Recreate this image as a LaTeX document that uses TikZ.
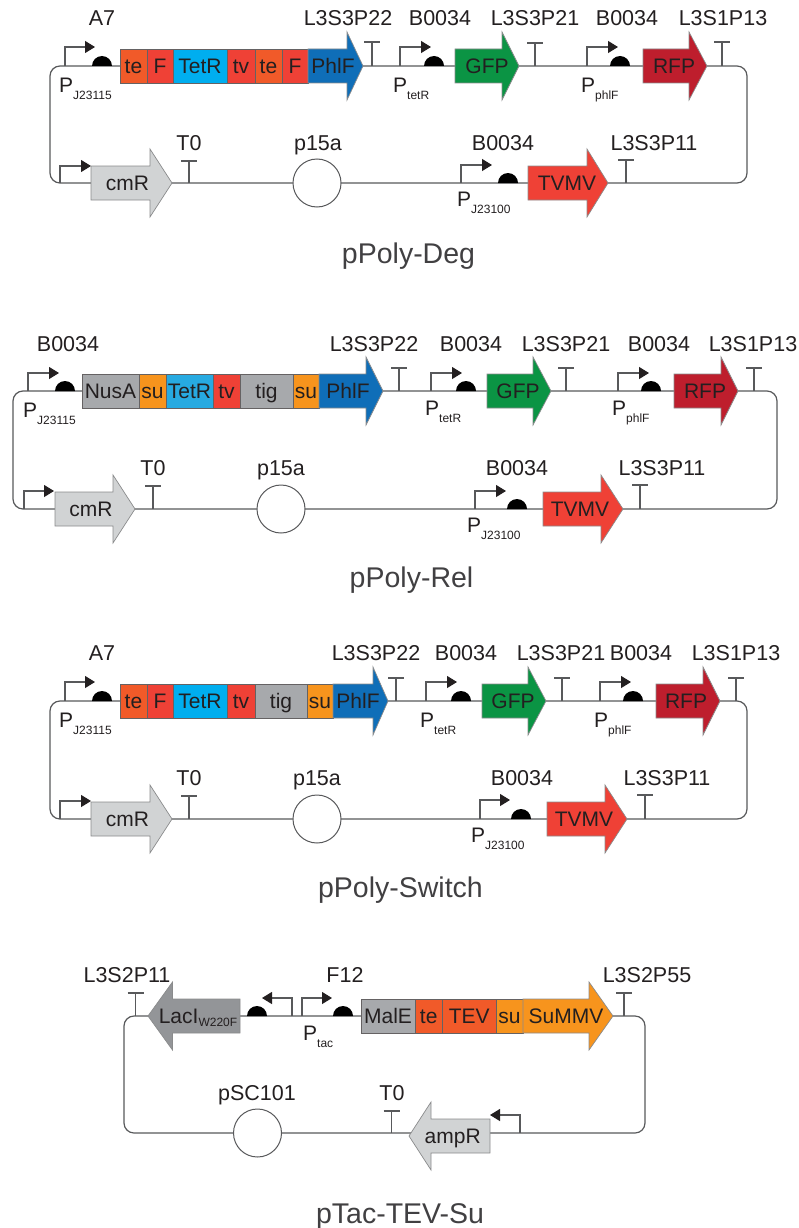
\documentclass[tikz,border=0pt]{standalone}
\usepackage{fontspec}
\setmainfont{Liberation Sans}
\usetikzlibrary{arrows.meta}
\definecolor{linecol}{RGB}{88,89,91}
\definecolor{textcol}{RGB}{35,31,32}
\definecolor{titlecol}{RGB}{65,64,66}
\definecolor{tecol}{RGB}{241,90,41}
\definecolor{redcol}{RGB}{239,65,54}
\definecolor{cyancol}{RGB}{0,174,239}
\definecolor{bluecol}{RGB}{39,170,225}
\definecolor{phlfcol}{RGB}{15,110,184}
\definecolor{greencol}{RGB}{11,148,68}
\definecolor{rfpcol}{RGB}{190,30,45}
\definecolor{lgray}{RGB}{209,211,212}
\definecolor{mgray}{RGB}{167,169,172}
\definecolor{dgray}{RGB}{147,149,152}
\definecolor{sucol}{RGB}{247,148,29}
\newcommand{\pname}[1]{P\raisebox{-7pt}{\fontsize{12}{12}\selectfont #1}}

\begin{document}
\begin{tikzpicture}[
  x=1pt, y=-1pt,
  backbone/.style={draw=linecol, line width=1.2pt, rounded corners=10pt},
  prom/.style={draw=linecol, line width=1.2pt, -{Triangle[length=10pt,width=12pt,color=textcol]}},
  term/.style={draw=linecol, line width=1.2pt},
  gene/.style={draw=linecol!70, line width=0.7pt, line join=miter},
  part/.style={
    draw=textcol!70, line width=0.7pt, minimum height=34pt, inner sep=0pt,
    text=textcol, font=\fontsize{21}{21}\selectfont, text height=15pt, text depth=0pt
  },
  genelab/.style={inner sep=0pt, text=textcol, font=\fontsize{21}{21}\selectfont, text height=15pt, text depth=0pt},
  lab/.style={inner sep=0pt, text=textcol, font=\fontsize{21.5}{21.5}\selectfont, text height=15pt, text depth=0pt},
  promlab/.style={anchor=base west, inner sep=0pt, text=textcol, font=\fontsize{21}{21}\selectfont},
  ori/.style={circle, draw=linecol, fill=white, line width=1pt, minimum size=48pt, inner sep=0pt},
  plasmid/.style={inner sep=0pt, text=titlecol, font=\fontsize{28.5}{28.5}\selectfont, text height=20pt, text depth=0pt},
]
\useasboundingbox (0,0) rectangle (799,1228);

% ---- Backbones ----
\foreach \n/\xa/\ya/\xb/\yb in {deg/50/66/747/183, rel/13/391/777/509,
                                sw/50/701/747/819, tac/124/1016/645/1133} {
  \coordinate (\n tl) at (\xa,\ya);
  \coordinate (\n br) at (\xb,\yb);
  \draw[backbone] (\n tl) rectangle (\n br);
}

% ---- Promoters (start x / backbone y / top y / tip x) ----
\foreach \xs/\y/\yt/\xt in {65/66/47/95, 400/66/47/431, 587/66/47/618, 461/183/165/492, 60/183/166/91,
                            28/391/373/59, 431/391/373/462, 618/391/373/649, 475/509/491/506, 24/509/491/54,
                            65/701/682/95, 426/701/682/457, 600/701/682/631, 480/819/800/510, 60/819/801/91,
                            292/1016/998/262, 302/1016/998/332, 520/1133/1115/490}
  \draw[prom] (\xs,\y) -- (\xs,\yt) -- (\xt,\yt);

% ---- RBS ----
\foreach \x/\y in {102/66, 434/66, 620/66, 508/183,
                   65/391, 466/391, 651/391, 517/509,
                   102/701, 461/701, 633/701, 521/819,
                   257/1016, 343/1016}
  \fill[black] (\x-10,\y) arc[start angle=180, end angle=0, radius=10pt] -- cycle;

% ---- Terminators (x / backbone y / top y) ----
\foreach \x/\y/\yt in {372/66/42, 535/66/43, 722/66/42, 626/183/160, 189/183/161,
                       399/391/368, 566/391/368, 754/391/368, 640/509/485, 153/509/486,
                       396/701/678, 562/701/678, 736/701/678, 645/819/795, 189/819/796,
                       135.5/1016/993, 624/1016/993, 391.5/1133/1111}
  \draw[term] (\x,\y) -- (\x,\yt) (\x-8,\yt) -- (\x+8,\yt);

% ---- Fusion parts ----
\foreach \n/\xa/\xb/\y/\f/\lab in {dte1/120/147/66/tecol/te, df1/147/173/66/redcol/F, dtet/173/227/66/cyancol/TetR,
                                   dtv/227/255/66/redcol/tv, dte2/255/282/66/tecol/te, df2/282/308/66/redcol/F,
                                   rnus/82/139/391/mgray/NusA, rsu1/139/166/391/sucol/su, rtet/166/213/391/bluecol/TetR,
                                   rtv/213/240/391/redcol/tv, rtig/240/293/391/mgray/tig, rsu2/293/319/391/sucol/su,
                                   ste/120/147/701/tecol/te, sf/147/173/701/redcol/F, stet/173/227/701/cyancol/TetR,
                                   stv/227/255/701/redcol/tv, stig/255/307/701/mgray/tig, ssu/307/333/701/sucol/su,
                                   tmal/361/415/1016/mgray/MalE, tte/415/442.5/1016/tecol/te,
                                   ttev/442.5/496/1016/tecol/TEV, tsu/496/523/1016/sucol/su}
  \node[part, fill=\f, minimum width={(\xb-\xa)*1pt}] (\n) at ({(\xa+\xb)/2},\y) {\lab};

% ---- Gene arrows (tail x / head base x / tip x / y / colour / text / text x) ----
\foreach \n/\xa/\xb/\xc/\y/\f/\lab/\xl in {dphl/308/347/363/66/phlfcol/PhlF/333, dgfp/455/502/519/66/greencol/GFP/487,
                                           drfp/643/689/707/66/rfpcol/RFP/674, dtvmv/528/587/608/183/redcol/TVMV/567,
                                           dcm/91/150/172/183/lgray/cmR/127.5,
                                           rphl/319/366/383/391/phlfcol/PhlF/348, rgfp/487/533/551/391/greencol/GFP/518,
                                           rrfp/674/721/738/391/rfpcol/RFP/705, rtvmv/543/601/623/509/redcol/TVMV/580,
                                           rcm/55/113/135/509/lgray/cmR/91,
                                           sphl/333/373/388/701/phlfcol/PhlF/358, sgfp/482/528/546/701/greencol/GFP/513,
                                           srfp/656/703/720/701/rfpcol/RFP/686, stvmv/547/605/627/819/redcol/TVMV/584,
                                           scm/91/150/172/819/lgray/cmR/127.5,
                                           tlac/240/172.5/148/1016/dgray/{LacI\raisebox{-3pt}{\fontsize{12}{12}\selectfont W220F}}/198,
                                           tsum/523/589/613/1016/sucol/SuMMV/566, tamp/490/431/409/1136/lgray/ampR/452.7} {
  \draw[gene, fill=\f] (\xa,\y-17) -- (\xb,\y-17) -- (\xb,\y-34) -- (\xc,\y)
    -- (\xb,\y+34) -- (\xb,\y+17) -- (\xa,\y+17) -- cycle;
  \node[genelab] (\n) at (\xl,\y) {\lab};
}

% ---- Origins ----
\node[ori] (dori) at (317,183) {};
\node[ori] (rori) at (281,509) {};
\node[ori] (sori) at (317,819) {};
\node[ori] (tori) at (257.5,1133) {};

% ---- Labels ----
\foreach \n/\x/\y/\lab in {da7/102/18/A7, dt22/348/18/L3S3P22, db1/440/18/B0034, dt21/535/18/L3S3P21, db2/627/18/B0034,
                           dt13/723/18/L3S1P13, dt0/189/143/T0, dp15/318/143/p15a, db3/503/143/B0034, dt11/654/143/L3S3P11,
                           rb1/68/344/B0034, rt22/374/344/L3S3P22, rb2/471/344/B0034, rt21/566/344/L3S3P21, rb3/659/344/B0034,
                           rt13/753/344/L3S1P13, rt0/153/468/T0, rp15/281/468/p15a, rb4/517/468/B0034, rt11/662/468/L3S3P11,
                           sa7/102/653/A7, st22/376/653/L3S3P22, sb1/466/653/B0034, st21/561/653/L3S3P21, sb2/641/653/B0034,
                           st13/736/653/L3S1P13, st0/189/778/T0, sp15/317/778/p15a, sb3/522/778/B0034, st11/667/778/L3S3P11,
                           tt11/127/975/L3S2P11, tf12/345/975/F12, tt55/647/975/L3S2P55, tsc/257/1093/pSC101, tt0/392/1093/T0}
  \node[lab] (\n) at (\x,\y) {\lab};

\foreach \n/\x/\y/\lab in {dpj1/59/92.5/J23115, dptet/393/92.5/tetR, dpphl/581/92.5/phlF, dpj2/457/206.5/J23100,
                           rpj1/23/417/J23115, rptet/425/415/tetR, rpphl/612/415/phlF, rpj2/467/532/J23100,
                           spj1/59/727/J23115, sptet/420/727/tetR, spphl/594/727/phlF, spj2/471/842/J23100,
                           tptac/303/1040/tac}
  \node[promlab] (\n) at (\x,\y) {\pname{\lab}};

% ---- Plasmid names ----
\node[plasmid] (deg) at (408.5,253) {pPoly-Deg};
\node[plasmid] (rel) at (411.5,577) {pPoly-Rel};
\node[plasmid] (sw) at (400.5,887) {pPoly-Switch};
\node[plasmid] (tac) at (400,1213) {pTac-TEV-Su};

\end{tikzpicture}
\end{document}
